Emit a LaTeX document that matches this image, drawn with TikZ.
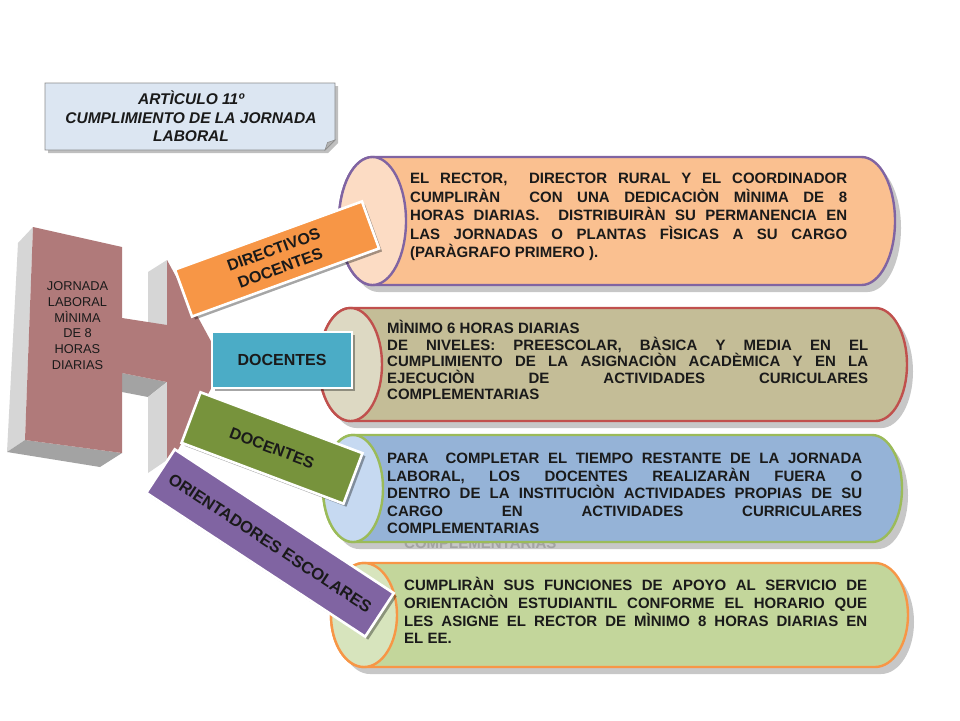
\documentclass[tikz,border=0pt]{standalone}
\usepackage{fontspec}
\usepackage{graphicx}
\setmainfont{Liberation Sans}
\usetikzlibrary{shadows}
\definecolor{hpink}{HTML}{B07A7A}
\definecolor{hgrayL}{HTML}{D6D6D6}
\definecolor{hgrayD}{HTML}{A3A3A3}
\definecolor{tfill}{HTML}{DCE6F2}
\definecolor{tborder}{HTML}{8C8C8C}
\definecolor{cA}{HTML}{FAC090}\definecolor{cAcap}{HTML}{FCDCC4}\definecolor{cAb}{HTML}{8064A2}
\definecolor{cB}{HTML}{C4BD97}\definecolor{cBcap}{HTML}{DDD9C3}\definecolor{cBb}{HTML}{C0504D}
\definecolor{cC}{HTML}{95B3D7}\definecolor{cCcap}{HTML}{C6D9F1}\definecolor{cCb}{HTML}{9BBB59}
\definecolor{cD}{HTML}{C3D69B}\definecolor{cDcap}{HTML}{D7E4BD}\definecolor{cDb}{HTML}{F79646}
\definecolor{lA}{HTML}{F79646}\definecolor{lB}{HTML}{4BACC6}\definecolor{lC}{HTML}{77933C}\definecolor{lD}{HTML}{8064A2}
\definecolor{ink}{HTML}{1A1A1A}
\newlength\jlw
\newcommand\dsp{\hskip .278em plus 1fil\relax}
\newcommand\jline[2]{\begingroup\spaceskip=.278em plus 1fil\relax\settowidth\jlw{#2}\ifdim\jlw>#1\relax\pgfmathsetmacro\jlr{(#1)/(\jlw)}\scalebox{\jlr}[1]{#2}\else\makebox[#1][s]{#2}\fi\endgroup}
\newcommand\prepar{\lineskiplimit=-20pt\relax\parindent=0pt\relax\spaceskip=.278em plus .1em\relax}
\newcommand\mycyl[8]{%
 \fill[black, opacity=.22] ({#1+6},{#3-#5+7}) -- ({#2+6},{#3-#5+7}) arc[start angle=90,end angle=-90,x radius=#4pt,y radius=#5pt] -- ({#1+6},{#3+#5+7}) arc[start angle=270,end angle=90,x radius=#4pt,y radius=#5pt] -- cycle;
 \draw[draw=#8, line width=2.4pt, fill=#6] (#1,{#3-#5}) -- (#2,{#3-#5}) arc[start angle=90,end angle=-90,x radius=#4pt,y radius=#5pt] -- (#1,{#3+#5}) arc[start angle=270,end angle=90,x radius=#4pt,y radius=#5pt] -- cycle;
 \draw[draw=#8, line width=2.4pt, fill=#7] (#1,#3) ellipse[x radius=#4pt, y radius=#5pt];
}
\tikzset{
 cyltext/.style={anchor=north west, inner sep=0pt, align=left, text=ink},
 lab/.style={draw=white, line width=2.6pt, inner sep=2pt, align=center, text=ink,
   font=\bfseries\fontsize{16}{19.5}\selectfont,
   drop shadow={shadow xshift=3pt, shadow yshift=-3pt, fill=black, opacity=.35}},
}
\begin{document}
\begin{tikzpicture}[x=1pt,y=-1pt]
\useasboundingbox[fill=white] (0,0) rectangle (960,720);

% ---- H-shaped block arrow
\fill[hgrayL] (33,227) -- (18,243) -- (7,452) -- (25,440) -- cycle;
\fill[hgrayD] (25,440) -- (122,453) -- (100,467) -- (7,452) -- cycle;
\fill[hgrayL] (148,272) -- (167,260) -- (167,325) -- (148,325) -- cycle;
\fill[hgrayD] (122,373) -- (167,382) -- (148,397) -- (122,392) -- cycle;
\fill[hgrayL] (148,397) -- (167,382) -- (167,460) -- (148,473) -- cycle;
\fill[hpink] (33,227) -- (122,247) -- (122,318) -- (167,325) -- (167,260) -- (213,345) -- (213,385) -- (167,470) -- (167,382) -- (122,373) -- (122,453) -- (25,440) -- cycle;
\node[align=center, text=ink, font=\fontsize{12.8}{15.8}\selectfont, inner sep=0pt] (htext) at (77.5,325.5) {JORNADA\\LABORAL\\MÌNIMA\\DE 8\\HORAS\\DIARIAS};

% ---- title box
\fill[black, opacity=.25] (48,86) -- (338,86) -- (338,143) -- (328,153) -- (48,153) -- cycle;
\draw[tborder, fill=tfill, line width=0.8pt] (45,83) -- (335,83) -- (335,140) -- (325,150) -- (45,150) -- cycle;
\draw[tborder, fill=black!30, line width=0.6pt] (335,140) -- (325,150) -- (327.5,142.5) -- cycle;
\node[align=center, text=ink, font=\bfseries\itshape\fontsize{15.5}{18.5}\selectfont, inner sep=0pt] (title) at (191,116.5) {ARTÌCULO 11º\\CUMPLIMIENTO DE LA JORNADA\\LABORAL};

% ---- cylinders
\mycyl{372.5}{861.5}{221}{33.5}{64}{cA}{cAcap}{cAb}
\mycyl{350.5}{875.5}{364.5}{31.5}{56.5}{cB}{cBcap}{cBb}
\node[anchor=base west, inner sep=0pt, text=black!18, font=\bfseries\fontsize{15}{18}\selectfont] (ghost) at (404,548) {COMPLEMENTARIAS};
\mycyl{353}{872}{488.5}{30}{53.5}{cC}{cCcap}{cCb}
\mycyl{364}{875}{615}{33}{52}{cD}{cDcap}{cDb}

\node[cyltext, text width=437pt, font=\bfseries\fontsize{15}{18.5}\selectfont] (tA) at (410,168.4) {\prepar
\rule{0pt}{15pt}\jline{437pt}{EL RECTOR,\dsp{} DIRECTOR RURAL Y EL COORDINADOR}\\
\jline{437pt}{CUMPLIRÀN\dsp{} CON UNA DEDICACIÒN MÌNIMA DE 8}\\
\jline{437pt}{HORAS DIARIAS.\dsp{} DISTRIBUIRÀN SU PERMANENCIA EN}\\
\jline{437pt}{LAS JORNADAS O PLANTAS FÌSICAS A SU CARGO}\\
(PARÀGRAFO PRIMERO ).};

\node[cyltext, text width=481pt, font=\bfseries\fontsize{15}{16.5}\selectfont] (tB) at (387,318.4) {\prepar
\rule{0pt}{15pt}MÌNIMO 6 HORAS DIARIAS\\
\jline{481pt}{DE NIVELES: PREESCOLAR, BÀSICA Y MEDIA EN EL}\\
\jline{481pt}{CUMPLIMIENTO DE LA ASIGNACIÒN ACADÈMICA Y EN LA}\\
\jline{481pt}{EJECUCIÒN DE ACTIVIDADES CURICULARES}\\
COMPLEMENTARIAS};

\node[cyltext, text width=475pt, font=\bfseries\fontsize{15}{17.5}\selectfont] (tC) at (387,448.4) {\prepar
\rule{0pt}{15pt}\jline{475pt}{PARA\dsp{} COMPLETAR EL TIEMPO RESTANTE DE LA JORNADA}\\
\jline{475pt}{LABORAL, LOS DOCENTES REALIZARÀN FUERA O}\\
\jline{475pt}{DENTRO DE LA INSTITUCIÒN ACTIVIDADES PROPIAS DE SU}\\
\jline{475pt}{CARGO EN ACTIVIDADES CURRICULARES}\\
COMPLEMENTARIAS};

\node[cyltext, text width=463pt, font=\bfseries\fontsize{15}{17.7}\selectfont] (tD) at (404,575.4) {\prepar
\rule{0pt}{15pt}\jline{463pt}{CUMPLIRÀN SUS FUNCIONES DE APOYO AL SERVICIO DE}\\
\jline{463pt}{ORIENTACIÒN ESTUDIANTIL CONFORME EL HORARIO QUE}\\
\jline{463pt}{LES ASIGNE EL RECTOR DE MÌNIMO 8 HORAS DIARIAS EN}\\
EL EE.};

% ---- labels
\node[lab, fill=lA, minimum width=199pt, minimum height=50pt, rotate=20] (lbA) at (277,259) {DIRECTIVOS\\DOCENTES};
\node[lab, fill=lB, minimum width=140pt, minimum height=56pt] (lbB) at (282,360) {DOCENTES};
\node[lab, fill=lD, minimum width=262pt, minimum height=52pt, rotate=-33.3, font=\bfseries\fontsize{16.5}{19.5}\selectfont] (lbD) at (270,543) {ORIENTADORES ESCOLARES};
\node[lab, fill=lC, minimum width=173pt, minimum height=54pt, rotate=-20.6] (lbC) at (272,448) {DOCENTES};
\end{tikzpicture}
\end{document}
